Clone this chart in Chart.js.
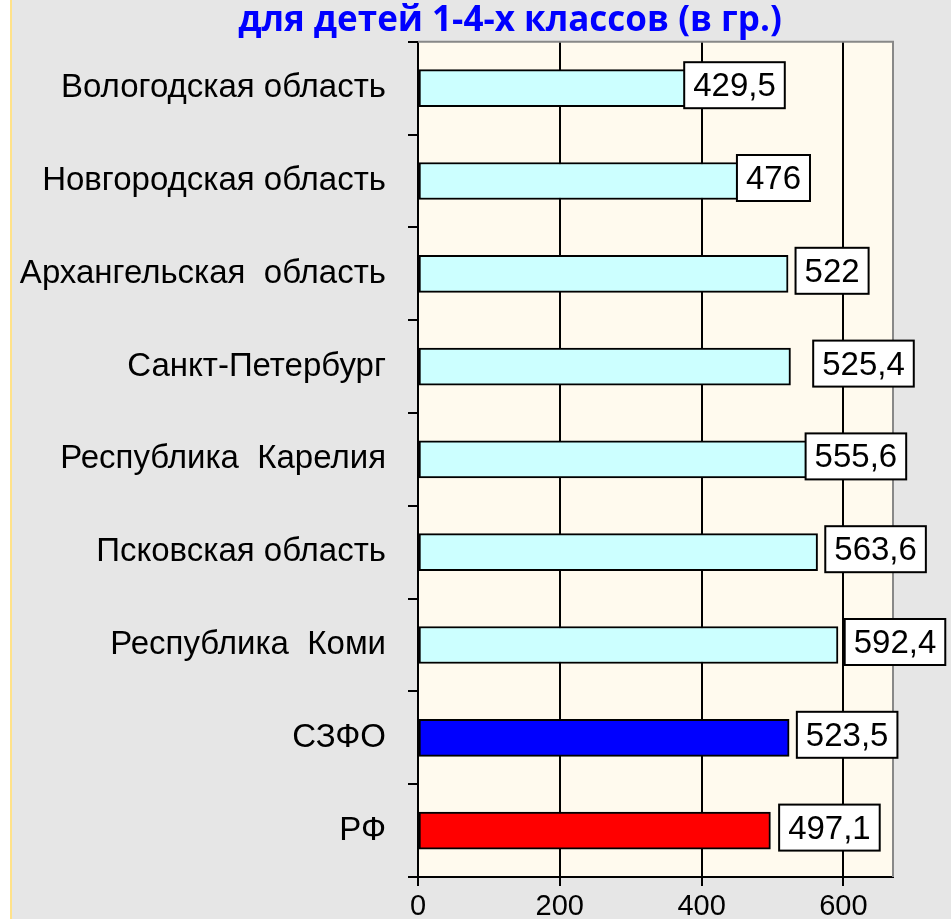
<!DOCTYPE html>
<html>
<head>
<meta charset="utf-8">
<script src="https://cdn.jsdelivr.net/npm/chart.js@4"></script>
<style>
  body { margin: 0; background: #e6e6e6; }
  #wrap { width: 951px; height: 919px; }
</style>
</head>
<body>
<div id="wrap"><canvas id="foodChart" width="951" height="919"></canvas></div>
<script>
const titleText = "для детей 1-4-х классов (в гр.)";
const categories = [
  "Вологодская область",
  "Новгородская область",
  "Архангельская  область",
  "Санкт-Петербург",
  "Республика  Карелия",
  "Псковская область",
  "Республика  Коми",
  "СЗФО",
  "РФ",
];
const values = [429.5, 476, 522, 525.4, 555.6, 563.6, 592.4, 523.5, 497.1];
const xTickValues = [0, 200, 400, 600];

// styling only
const barColors = ["#ccffff", "#ccffff", "#ccffff", "#ccffff", "#ccffff", "#ccffff", "#ccffff", "#0000ff", "#ff0000"];
const labelShift = [12, 18, 44, 73, 44, 58, 57, 58, 59];

const backdrop = {
  id: "backdrop",
  beforeDraw(chart) {
    const { ctx, chartArea: a } = chart;
    ctx.save();
    ctx.fillStyle = "#e6e6e6";
    ctx.fillRect(0, 0, chart.width, chart.height);
    ctx.fillStyle = "#ffffff";
    ctx.fillRect(0, 0, 10, chart.height);
    ctx.fillStyle = "#ffe28a";
    ctx.fillRect(10, 0, 2, chart.height);
    ctx.fillStyle = "#fffaee";
    ctx.fillRect(a.left, a.top, a.right - a.left, a.bottom - a.top);

    ctx.fillStyle = "#0000ff";
    ctx.font = "bold 35px 'Open Sans', sans-serif";
    ctx.textAlign = "center";
    ctx.textBaseline = "alphabetic";
    ctx.fillText(titleText, 510, 31);
    ctx.restore();
  },
};

const valueBoxes = {
  id: "valueBoxes",
  afterDatasetsDraw(chart) {
    const { ctx, chartArea: a } = chart;
    ctx.save();
    // gray frame on top and right of plot
    ctx.strokeStyle = "#888888";
    ctx.lineWidth = 2;
    ctx.beginPath();
    ctx.moveTo(a.left, a.top);
    ctx.lineTo(a.right, a.top);
    ctx.lineTo(a.right, a.bottom);
    ctx.stroke();

    ctx.font = "33px 'Liberation Sans', Arial, sans-serif";
    ctx.textAlign = "center";
    ctx.textBaseline = "middle";
    const meta = chart.getDatasetMeta(0);
    meta.data.forEach((bar, i) => {
      const txt = String(values[i]).replace(".", ",");
      const w = ctx.measureText(txt).width + 18;
      const h = 46;
      const cx = bar.x + labelShift[i];
      const cy = bar.y - 3;
      ctx.fillStyle = "#ffffff";
      ctx.fillRect(cx - w / 2, cy - h / 2, w, h);
      ctx.strokeStyle = "#000000";
      ctx.lineWidth = 2;
      ctx.strokeRect(cx - w / 2, cy - h / 2, w, h);
      ctx.fillStyle = "#000000";
      ctx.fillText(txt, cx, cy + 2);
    });
    ctx.restore();
  },
};

new Chart(document.getElementById("foodChart"), {
  type: "bar",
  data: {
    labels: categories,
    datasets: [
      {
        data: values,
        backgroundColor: barColors,
        borderColor: "#000000",
        borderWidth: 2,
        borderSkipped: false,
        barThickness: 37,
      },
    ],
  },
  options: {
    indexAxis: "y",
    responsive: false,
    animation: false,
    layout: { padding: { top: 38, right: 58, left: 0, bottom: 0 } },
    plugins: {
      legend: { display: false },
      tooltip: { enabled: false },
    },
    scales: {
      x: {
        min: 0,
        max: 670,
        afterFit(scale) { scale.height = 42; },
        afterBuildTicks(scale) {
          scale.ticks = xTickValues.map((v) => ({ value: v }));
        },
        ticks: {
          includeBounds: false,
          color: "#000000",
          font: { family: "'Liberation Sans', Arial, sans-serif", size: 29 },
          padding: 4,
          maxRotation: 0,
        },
        grid: { color: "#000000", lineWidth: 2, tickLength: 9 },
        border: { color: "#000000", width: 2 },
      },
      y: {
        afterFit(scale) { scale.width = 418; },
        ticks: {
          color: "#000000",
          font: { family: "'Liberation Sans', Arial, sans-serif", size: 33 },
          padding: 22,
        },
        grid: { offset: true, drawOnChartArea: false, color: "#000000", lineWidth: 2, tickLength: 10 },
        border: { color: "#000000", width: 2 },
      },
    },
  },
  plugins: [backdrop, valueBoxes],
});
</script>
</body>
</html>
